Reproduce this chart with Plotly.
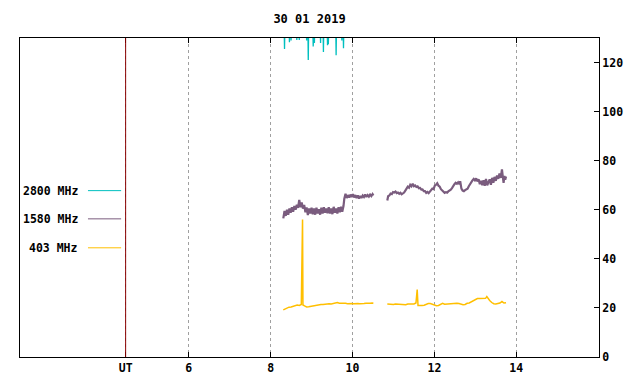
import plotly.graph_objects as go

# ---- data (hours UT, values) ----
t2800 = [8.33, 8.34, 8.35, 8.45, 8.46, 8.47, 8.49, 8.50, 8.51, 8.63, 8.64, 8.65,
         8.69, 8.70, 8.71, 8.87, 8.88, 8.89, 8.91, 8.92, 8.93, 9.03, 9.04, 9.05,
         9.06, 9.07, 9.08, 9.21, 9.22, 9.23, 9.28, 9.29, 9.30, 9.38, 9.39, 9.40,
         9.41, 9.42, 9.59, 9.60, 9.61, 9.73, 9.74, 9.75, 9.77, 9.78, 9.79, 9.82]
v2800 = [135, 125.5, 135, 135, 128.3, 135, 135, 129.0, 135, 135, 129.2, 135,
         135, 129.2, 135, 135, 129.0, 135, 135, 121.0, 135, 135, 126.5, 135,
         135, 128.0, 135, 135, 128.0, 135, 135, 124.3, 135, 135, 127.0, 135,
         127.5, 135, 135, 123.0, 135, 135, 129.0, 135, 135, 125.8, 135, 135]

t1580 = [8.31, 8.34, 8.37, 8.40, 8.43, 8.46, 8.49, 8.52, 8.55, 8.58, 8.61, 8.64,
         8.67, 8.70, 8.73, 8.76, 8.79, 8.82, 8.85, 8.88, 8.91, 8.94, 8.97, 9.00,
         9.03, 9.06, 9.09, 9.12, 9.15, 9.18, 9.21, 9.24, 9.27, 9.30, 9.33, 9.36,
         9.39, 9.42, 9.45, 9.48, 9.51, 9.54, 9.57, 9.60, 9.63, 9.66, 9.69, 9.72,
         9.75, 9.78,
         9.80, 9.83, 9.86, 9.89, 9.92, 9.95, 9.98, 10.01, 10.04, 10.07, 10.10,
         10.13, 10.16, 10.19, 10.22, 10.25, 10.28, 10.31, 10.34, 10.37, 10.40,
         10.43, 10.46, 10.49, 10.51,
         10.65,
         10.85, 10.87, 10.90, 10.93, 10.96, 10.99, 11.02, 11.05, 11.08, 11.11,
         11.14, 11.17, 11.20, 11.23, 11.26, 11.29, 11.32, 11.35, 11.38, 11.41,
         11.44, 11.47, 11.50, 11.53, 11.56, 11.59, 11.62, 11.65, 11.68, 11.71,
         11.74, 11.77, 11.80, 11.83, 11.86, 11.89, 11.92, 11.95, 11.98, 12.01,
         12.04, 12.07, 12.10, 12.13, 12.16, 12.19, 12.22, 12.25, 12.28, 12.31,
         12.34, 12.37, 12.40, 12.43, 12.46, 12.49, 12.52, 12.55, 12.58, 12.61,
         12.63, 12.66, 12.69, 12.72, 12.75, 12.78, 12.81, 12.84, 12.87, 12.90,
         12.93, 12.96, 12.99, 13.02, 13.05, 13.08, 13.11, 13.14, 13.17, 13.20,
         13.23, 13.26, 13.29, 13.32, 13.35, 13.38, 13.41, 13.44, 13.47, 13.50,
         13.53, 13.56, 13.59, 13.62, 13.65, 13.67, 13.69, 13.71, 13.73, 13.75]
v1580 = [56.5, 59.5, 57.5, 60.0, 58.0, 60.5, 58.8, 61.0, 59.2, 61.5, 60.0, 62.0,
         60.8, 64.0, 61.0, 63.0, 60.5, 62.0, 59.0, 61.0, 57.8, 60.5, 58.5, 60.8,
         58.2, 60.5, 58.0, 60.8, 58.5, 60.2, 58.0, 60.8, 58.5, 61.0, 58.8, 60.5,
         58.6, 61.0, 58.5, 60.5, 58.2, 61.2, 58.8, 60.5, 58.5, 61.0, 59.0, 61.2,
         59.2, 61.5,
         64.5, 66.5, 64.8, 66.0, 65.0, 66.2, 65.2, 66.4, 65.0, 66.0, 64.8,
         65.8, 64.6, 65.6, 64.8, 65.8, 65.2, 66.2, 65.2, 66.0, 65.4,
         66.2, 65.6, 66.4, 65.8,
         None,
         63.8, 65.5, 65.8, 66.6, 66.4, 67.2, 67.0, 67.4, 66.8, 67.0,
         66.5, 66.9, 66.3, 66.7, 67.0, 67.8, 68.4, 69.4, 69.0, 70.2,
         69.6, 70.6, 69.6, 69.9, 69.3, 69.5, 68.8, 68.9, 68.2, 68.3,
         67.6, 67.6, 66.9, 67.3, 66.8, 67.4, 67.6, 68.6, 68.4, 69.8,
         70.2, 70.8, 69.8, 69.4, 68.4, 67.8, 67.2, 66.9, 67.2, 67.0,
         67.5, 67.8, 68.2, 68.8, 70.0, 70.4, 71.0, 70.6, 71.2, 70.4,
         71.6, 68.6, 67.8, 67.6, 68.0, 68.2, 68.6, 69.6, 70.6, 71.2,
         72.0, 72.6, 72.0, 72.8, 71.6, 72.4, 70.4, 71.8, 70.0, 72.0,
         69.8, 72.6, 70.0, 71.2, 72.4, 70.2, 73.0, 71.0, 73.4, 71.8,
         74.0, 72.6, 74.8, 73.0, 76.5, 73.6, 71.0, 73.8, 72.2, 73.6]

t403 = [8.31, 8.35, 8.40, 8.45, 8.50, 8.55, 8.60, 8.65, 8.70, 8.75, 8.78, 8.79,
        8.83, 8.88, 8.93, 8.98, 9.03, 9.08, 9.13, 9.18, 9.23, 9.28, 9.33, 9.38,
        9.43, 9.48, 9.53, 9.58, 9.63, 9.68, 9.73, 9.78, 9.83, 9.88, 9.93, 9.98,
        10.03, 10.08, 10.13, 10.18, 10.23, 10.28, 10.33, 10.38, 10.43, 10.48, 10.51,
        10.65,
        10.85, 10.90, 10.95, 11.00, 11.05, 11.10, 11.15, 11.20, 11.25, 11.30,
        11.35, 11.40, 11.45, 11.50, 11.55, 11.58, 11.60, 11.65, 11.70, 11.75,
        11.80, 11.85, 11.90, 11.95, 12.00, 12.05, 12.10, 12.15, 12.20, 12.25,
        12.30, 12.35, 12.40, 12.45, 12.50, 12.55, 12.60, 12.65, 12.70, 12.75,
        12.80, 12.85, 12.90, 12.95, 13.00, 13.05, 13.10, 13.15, 13.20, 13.25,
        13.28, 13.31, 13.35, 13.40, 13.45, 13.50, 13.55, 13.60, 13.65, 13.70, 13.75]
v403 = [19.2, 19.6, 19.9, 20.3, 20.4, 20.7, 20.9, 21.2, 21.0, 21.4, 56.0, 21.2,
        20.8, 20.4, 20.5, 20.7, 20.8, 21.0, 21.2, 21.2, 21.4, 21.4, 21.6, 21.5,
        21.7, 21.6, 21.8, 21.9, 22.2, 21.9, 22.0, 21.8, 21.9, 21.7, 21.9, 21.8,
        21.7, 21.9, 21.8, 21.7, 21.9, 21.8, 21.9, 21.8, 21.9, 22.0, 21.9,
        None,
        21.6, 21.5, 21.6, 21.4, 21.6, 21.5, 21.4, 21.6, 21.5, 21.3,
        21.6, 21.5, 21.4, 21.6, 22.0, 27.5, 21.0, 20.9, 21.0, 21.1,
        21.5, 21.8, 21.8, 21.4, 21.0, 20.9, 21.0, 21.4, 21.9, 21.5,
        21.6, 21.7, 21.9, 21.8, 22.0, 21.9, 21.8, 21.4, 21.3, 21.4,
        21.9, 22.0, 22.4, 23.0, 23.5, 23.8, 23.8, 23.8, 23.8, 23.9,
        24.6, 23.8, 23.0, 22.2, 21.7, 21.6, 21.7, 22.0, 22.6, 22.0, 22.1]

x_tickvals = [4.46, 6, 8, 10, 12, 14]
x_ticktext = ["UT", "6", "8", "10", "12", "14"]
y_tickvals = [0, 20, 40, 60, 80, 100, 120]
title_text = "30 01 2019"
series_names = ["2800 MHz", "1580 MHz", "403 MHz"]
series_colors = ["#00bfbf", "#7a5c7e", "#ffbf00"]
legend_y = [67.8, 56.3, 44.5]

FONT = "DejaVu Sans Mono"

fig = go.Figure()
fig.add_trace(go.Scatter(x=t2800, y=v2800, mode="lines",
                         line=dict(color=series_colors[0], width=1.3),
                         connectgaps=False, showlegend=False))
fig.add_trace(go.Scatter(x=t1580, y=v1580, mode="lines",
                         line=dict(color=series_colors[1], width=2.2),
                         connectgaps=False, showlegend=False))
fig.add_trace(go.Scatter(x=t403, y=v403, mode="lines",
                         line=dict(color=series_colors[2], width=1.5),
                         connectgaps=False, showlegend=False))

# UT marker line
fig.add_shape(type="line", x0=4.46, x1=4.46, y0=0, y1=130, xref="x", yref="y",
              line=dict(color="#8b0000", width=1), layer="above")

# key
for name, col, yy in zip(series_names, series_colors, legend_y):
    fig.add_annotation(x=3.345, y=yy, xref="x", yref="y", text=name,
                       showarrow=False, xanchor="right", yanchor="middle",
                       font=dict(family=FONT, size=11.5, color="black", weight="bold"))
    fig.add_shape(type="line", x0=3.54, x1=4.35, y0=yy, y1=yy, xref="x", yref="y",
                  line=dict(color=col, width=1))

fig.update_layout(
    width=640, height=384,
    margin=dict(l=20, r=41, t=38, b=27, autoexpand=False),
    paper_bgcolor="white", plot_bgcolor="white",
    title=dict(text=title_text, x=0.5, xref="paper", y=1 - 19 / 384, yref="container",
               xanchor="center", yanchor="middle",
               font=dict(family=FONT, size=12, color="black", weight="bold")),
    font=dict(family=FONT, size=11.5, color="black", weight="bold"),
)
fig.update_xaxes(range=[1.88, 16.02], tickmode="array", tickvals=x_tickvals,
                 ticktext=x_ticktext, showgrid=True, gridcolor="#a0a0a0",
                 griddash="3px,3px", gridwidth=1, zeroline=False,
                 showline=True, linecolor="black", linewidth=1, mirror="allticks",
                 ticks="inside", ticklen=5, tickcolor="black", automargin=False,
                 tickfont=dict(family=FONT, size=11.5, color="black", weight="bold"))
fig.update_yaxes(range=[0, 130], side="right", tickmode="array", tickvals=y_tickvals,
                 showgrid=False, zeroline=False, showline=True, linecolor="black",
                 linewidth=1, mirror=True, ticks="inside", ticklen=5, tickcolor="black",
                 automargin=False,
                 tickfont=dict(family=FONT, size=11.5, color="black", weight="bold"))

fig.write_html("out.html", config={"displayModeBar": False},
               post_script="document.body.style.margin='0';document.body.style.padding='0';")
